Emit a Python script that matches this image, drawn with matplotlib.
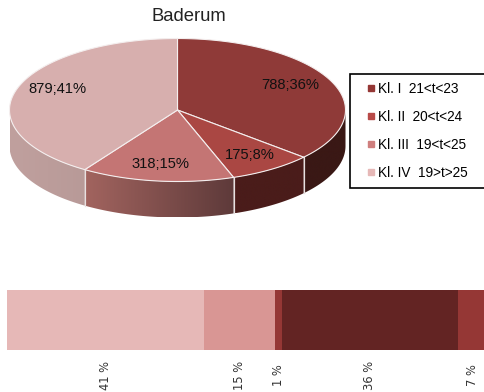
import numpy as np
import matplotlib
matplotlib.use("Agg")
import matplotlib.pyplot as plt
from matplotlib.lines import Line2D
from matplotlib.patches import Polygon
from matplotlib.colors import to_rgb

W, H = 484, 392
title = "Baderum"
pie_values = [788, 175, 318, 879]
pie_labels = ["788;36%", "175;8%", "318;15%", "879;41%"]
legend_labels = ["Kl. I  21<t<23", "Kl. II  20<t<24", "Kl. III  19<t<25", "Kl. IV  19>t>25"]
bar_values = [41.0, 14.8, 1.4, 36.7, 6.3]
bar_labels = ["41 %", "15 %", "1 %", "36 %", "7 %"]

top_colors = ["#8f3a38", "#aa4743", "#c47574", "#d7afae"]
side_left = ["#3a1815", "#4a1c1a", "#a2645f", "#c0a09e"]
side_right = ["#3a1815", "#4a1c1a", "#5e3a3a", "#b89a98"]
legend_colors = ["#953735", "#b84a48", "#cf7f7e", "#e6b8b7"]
bar_colors = ["#e6b8b7", "#d99694", "#953735", "#632423", "#953735"]

plt.rcParams["font.family"] = ["Liberation Sans", "DejaVu Sans"]
fig = plt.figure(figsize=(W / 100, H / 100), dpi=100)
ax = fig.add_axes([0, 0, 1, 1])

cx, cy, rx, ry, depth = 177.5, 110, 168, 71.5, 36


def pt(deg):
    a = np.radians(deg)
    return cx + rx * np.sin(a), cy - ry * np.cos(a)


fracs = np.array(pie_values) / sum(pie_values)
edges = np.concatenate([[0], np.cumsum(fracs) * 360])

# side walls (visible front half only), filled with a horizontal gradient
for i in range(4):
    a0, a1 = max(edges[i], 90), min(edges[i + 1], 270)
    if a1 <= a0:
        continue
    angs = np.linspace(a0, a1, 80)
    xs, ys = pt(angs)
    xmin, xmax = xs.min(), xs.max()
    cl, cr = np.array(to_rgb(side_left[i])), np.array(to_rgb(side_right[i]))
    grad = np.linspace(0, 1, 128)[None, :, None]
    img = ax.imshow(cl + (cr - cl) * grad, aspect="auto", zorder=1,
                    extent=(xmin, xmax, ys.max() + depth, ys.min()))
    poly = Polygon(np.c_[np.r_[xs, xs[::-1]], np.r_[ys, ys[::-1] + depth]],
                   closed=True, transform=ax.transData, fc="none", ec="none")
    ax.add_patch(poly)
    img.set_clip_path(poly)
    for a in (a0, a1):
        if a in (90, 270):
            continue
        x, y = pt(a)
        ax.plot([x, x], [y, y + depth], color="#e8e0e0", lw=0.8, zorder=2)

# top faces
for i in range(4):
    angs = np.linspace(edges[i], edges[i + 1], 120)
    xs, ys = pt(angs)
    ax.fill(np.r_[cx, xs], np.r_[cy, ys], facecolor=top_colors[i],
            edgecolor="#f4eeee", lw=0.8, zorder=3)

ax.set_xlim(0, W)
ax.set_ylim(H, 0)
ax.axis("off")

label_xy = [(290, 85), (250, 155), (161, 164), (57, 89)]
for s, (x, y) in zip(pie_labels, label_xy):
    ax.text(x, y, s, fontsize=10.6, color="#111111", ha="center", va="center", zorder=5)

ax.text(188.5, 16, title, fontsize=13.3, color="#222222", ha="center", va="center")

handles = [Line2D([], [], ls="", marker="s", ms=4.3, mfc=c, mec=c) for c in legend_colors]
leg = ax.legend(handles, legend_labels, loc="upper left", bbox_to_anchor=(349.5, 74, 145, 0),
                bbox_transform=ax.transData, borderaxespad=0, fontsize=9.8, frameon=True,
                fancybox=False, edgecolor="black", framealpha=1, labelspacing=1.03,
                borderpad=0.58, handlelength=2.06, handletextpad=-0.58, mode="expand")
leg.get_frame().set_linewidth(1.2)

bx = fig.add_axes([7 / W, 1 - 350 / H, (W - 7) / W, 60 / H])
left = np.concatenate([[0], np.cumsum(bar_values)[:-1]])
bx.barh([0] * 5, bar_values, left=left, height=1, color=bar_colors, lw=0)
bx.set_xlim(0, (W - 7) / 4.8)
bx.set_ylim(-0.5, 0.5)
bx.set_yticks([])
bx.set_xticks(left + np.array(bar_values) / 2)
bx.set_xticklabels(bar_labels, rotation=90, va="center", family="DejaVu Sans",
                   fontsize=8.3, color="#333333")
bx.tick_params(axis="x", length=0, pad=18)
for sp in bx.spines.values():
    sp.set_visible(False)

fig.savefig("out.png", dpi=100)
